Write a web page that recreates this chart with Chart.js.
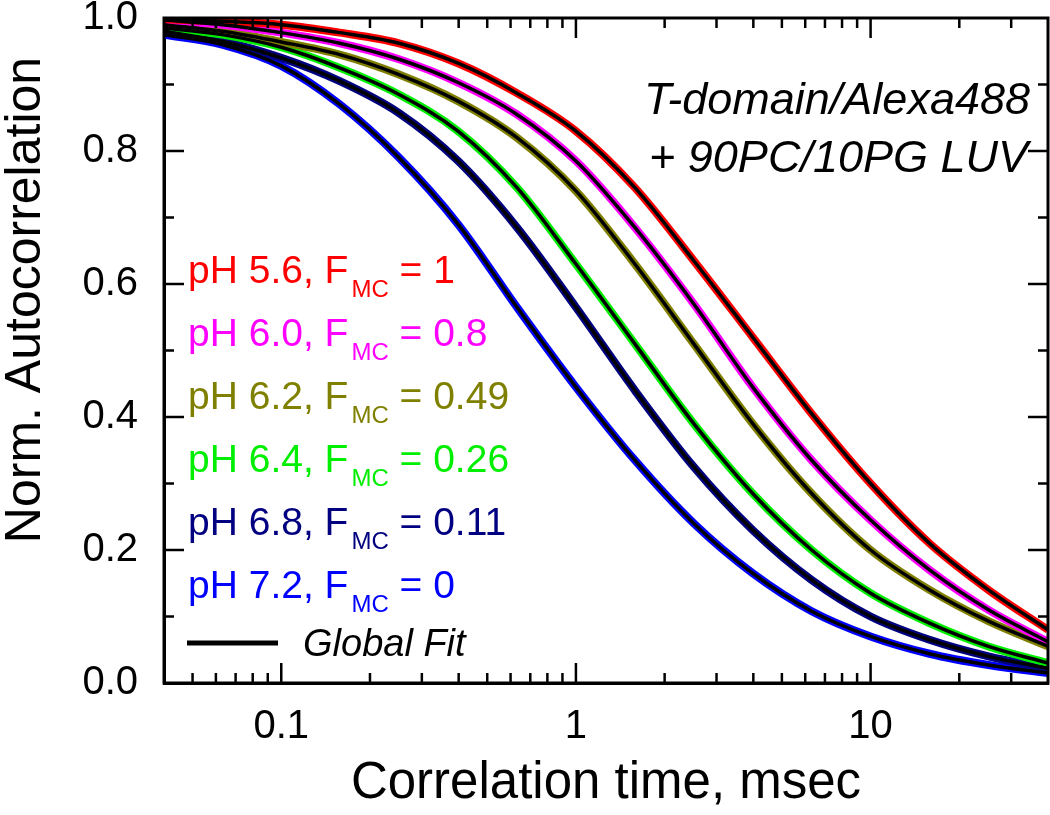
<!DOCTYPE html>
<html>
<head>
<meta charset="utf-8">
<script src="https://cdn.jsdelivr.net/npm/chart.js@4.4.1/dist/chart.umd.min.js"></script>
<style>
  html, body { margin: 0; padding: 0; background: #fff; }
</style>
</head>
<body>
<canvas id="fcs" width="1050" height="815"></canvas>
<script>
/* FCS autocorrelation curves, T-domain/Alexa488 + 90PC/10PG LUV */

const FONT = 'Arial, "Liberation Sans", sans-serif';

// correlation time (msec), 0.2-decade steps across the axis
const tau = [0.04, 0.063, 0.1, 0.158, 0.251, 0.398, 0.631, 1, 1.585, 2.512, 3.981, 6.31, 10, 15.85, 25.12, 40];

// normalized autocorrelation at each tau
const g56 = [0.998, 0.995, 0.99, 0.978, 0.962, 0.932, 0.887, 0.83, 0.745, 0.635, 0.52, 0.405, 0.30, 0.21, 0.14, 0.08];
const g60 = [0.997, 0.99, 0.978, 0.962, 0.938, 0.903, 0.855, 0.785, 0.685, 0.57, 0.445, 0.335, 0.245, 0.17, 0.11, 0.062];
const g62 = [0.99, 0.98, 0.964, 0.945, 0.915, 0.875, 0.82, 0.74, 0.63, 0.51, 0.39, 0.285, 0.20, 0.14, 0.093, 0.055];
const g64 = [0.985, 0.975, 0.956, 0.925, 0.885, 0.83, 0.745, 0.63, 0.51, 0.39, 0.285, 0.20, 0.135, 0.09, 0.055, 0.03];
const g68 = [0.98, 0.965, 0.94, 0.905, 0.857, 0.785, 0.685, 0.565, 0.44, 0.325, 0.23, 0.155, 0.10, 0.065, 0.04, 0.022];
const g72 = [0.975, 0.96, 0.928, 0.87, 0.79, 0.69, 0.565, 0.445, 0.335, 0.24, 0.165, 0.108, 0.07, 0.044, 0.027, 0.015];

const phLabels  = ['5.6', '6.0', '6.2', '6.4', '6.8', '7.2'];
const fmcValues = ['1', '0.8', '0.49', '0.26', '0.11', '0'];
const colors    = ['#ff0000', '#ff00ff', '#808000', '#00ee00', '#000080', '#0000ff'];

const xMajor = [0.1, 1, 10];
const xMinor = [0.05, 0.06, 0.07, 0.08, 0.09, 0.2, 0.3, 0.4, 0.5, 0.6, 0.7, 0.8, 0.9,
                2, 3, 4, 5, 6, 7, 8, 9, 20, 30];
const yMajor = [0.2, 0.4, 0.6, 0.8];
const yMinor = [0.1, 0.3, 0.5, 0.7, 0.9];

const corrs = [g56, g60, g62, g64, g68, g72];

function points(gs) {
  return tau.map((t, i) => ({ x: t, y: gs[i] }));
}

const datasets = [];
// black global-fit lines on top (lower order is drawn last)
corrs.forEach((gs, i) => {
  datasets.push({
    label: 'Global Fit pH ' + phLabels[i],
    data: points(gs),
    borderColor: '#000',
    borderWidth: 3.5,
    pointRadius: 0,
    cubicInterpolationMode: 'monotone',
    order: 0,
  });
});
// colored measured curves underneath
corrs.forEach((gs, i) => {
  datasets.push({
    label: 'pH ' + phLabels[i],
    data: points(gs),
    borderColor: colors[i],
    borderWidth: 8,
    pointRadius: 0,
    cubicInterpolationMode: 'monotone',
    order: 1,
  });
});

/**
 * Frame, inward ticks, annotation and legend text
 */
const framePlugin = {
  id: 'frame',
  afterDraw(chart) {
    const { ctx, chartArea: a } = chart;
    const x = chart.scales.x, y = chart.scales.y;
    ctx.save();

    ctx.strokeStyle = '#000';
    ctx.lineWidth = 3;
    ctx.strokeRect(a.left, a.top, a.right - a.left, a.bottom - a.top);

    const line = (x1, y1, x2, y2) => {
      ctx.beginPath(); ctx.moveTo(x1, y1); ctx.lineTo(x2, y2); ctx.stroke();
    };
    ctx.lineWidth = 2.5;
    xMajor.forEach(v => {
      const px = x.getPixelForValue(v);
      line(px, a.bottom, px, a.bottom - 20);
      line(px, a.top, px, a.top + 20);
    });
    xMinor.forEach(v => {
      const px = x.getPixelForValue(v);
      line(px, a.bottom, px, a.bottom - 10);
      line(px, a.top, px, a.top + 10);
    });
    yMajor.forEach(v => {
      const py = y.getPixelForValue(v);
      line(a.left, py, a.left + 20, py);
      line(a.right, py, a.right - 20, py);
    });
    yMinor.forEach(v => {
      const py = y.getPixelForValue(v);
      line(a.left, py, a.left + 10, py);
      line(a.right, py, a.right - 10, py);
    });

    // y axis title (drawn here to match its offset from the axis centre)
    ctx.fillStyle = '#000';
    ctx.save();
    ctx.translate(26, 300);
    ctx.rotate(-Math.PI / 2);
    ctx.font = '50px ' + FONT;
    ctx.textAlign = 'center';
    ctx.textBaseline = 'middle';
    ctx.fillText('Norm. Autocorrelation', 0, 0);
    ctx.restore();

    // sample annotation
    ctx.font = 'italic 45px ' + FONT;
    ctx.textAlign = 'right';
    ctx.textBaseline = 'alphabetic';
    ctx.fillText('T-domain/Alexa488', 1030, 114);
    ctx.fillText('+ 90PC/10PG LUV', 1028, 172);

    // legend: pH, F_MC
    ctx.textAlign = 'left';
    phLabels.forEach((ph, i) => {
      const by = 283 + i * 63;
      let cx = 188;
      ctx.fillStyle = colors[i];
      ctx.font = '39px ' + FONT;
      const head = 'pH ' + ph + ', F';
      ctx.fillText(head, cx, by);
      cx += ctx.measureText(head).width + 3;
      ctx.font = '24px ' + FONT;
      ctx.fillText('MC', cx, by + 14);
      cx += ctx.measureText('MC').width;
      ctx.font = '39px ' + FONT;
      ctx.fillText(' = ' + fmcValues[i], cx, by);
    });

    ctx.strokeStyle = '#000';
    ctx.lineWidth = 5;
    line(187, 643, 278, 643);
    ctx.fillStyle = '#000';
    ctx.font = 'italic 38px ' + FONT;
    ctx.fillText('Global Fit', 303, 656);

    ctx.restore();
  }
};

new Chart(document.getElementById('fcs'), {
  type: 'line',
  data: { datasets },
  options: {
    responsive: false,
    animation: false,
    layout: { padding: { top: 18, right: 2, left: 0, bottom: 0 } },
    plugins: { legend: { display: false }, tooltip: { enabled: false } },
    scales: {
      x: {
        type: 'logarithmic',
        min: 0.04,
        max: 40,
        afterBuildTicks: scale => { scale.ticks = xMajor.map(v => ({ value: v })); },
        afterFit: scale => { scale.height = 132; scale.paddingLeft = 0; scale.paddingRight = 0; },
        grid: { display: false, drawTicks: false },
        border: { display: true, color: '#000', width: 3 },
        ticks: {
          padding: 20,
          color: '#000',
          font: { family: FONT, size: 40 },
          callback: v => String(v),
        },
        title: {
          display: true,
          text: 'Correlation time, msec',
          color: '#000',
          font: { family: FONT, size: 51 },
          padding: { top: 0, bottom: 0 },
        },
      },
      y: {
        min: 0,
        max: 1,
        afterFit: scale => { scale.width = 164; scale.paddingTop = 0; scale.paddingBottom = 0; },
        grid: { display: false, drawTicks: false },
        border: { display: true, color: '#000', width: 3 },
        ticks: {
          stepSize: 0.2,
          padding: 26,
          color: '#000',
          font: { family: FONT, size: 40 },
          callback: v => v.toFixed(1),
        },
      },
    },
  },
  plugins: [framePlugin],
});
</script>
</body>
</html>
